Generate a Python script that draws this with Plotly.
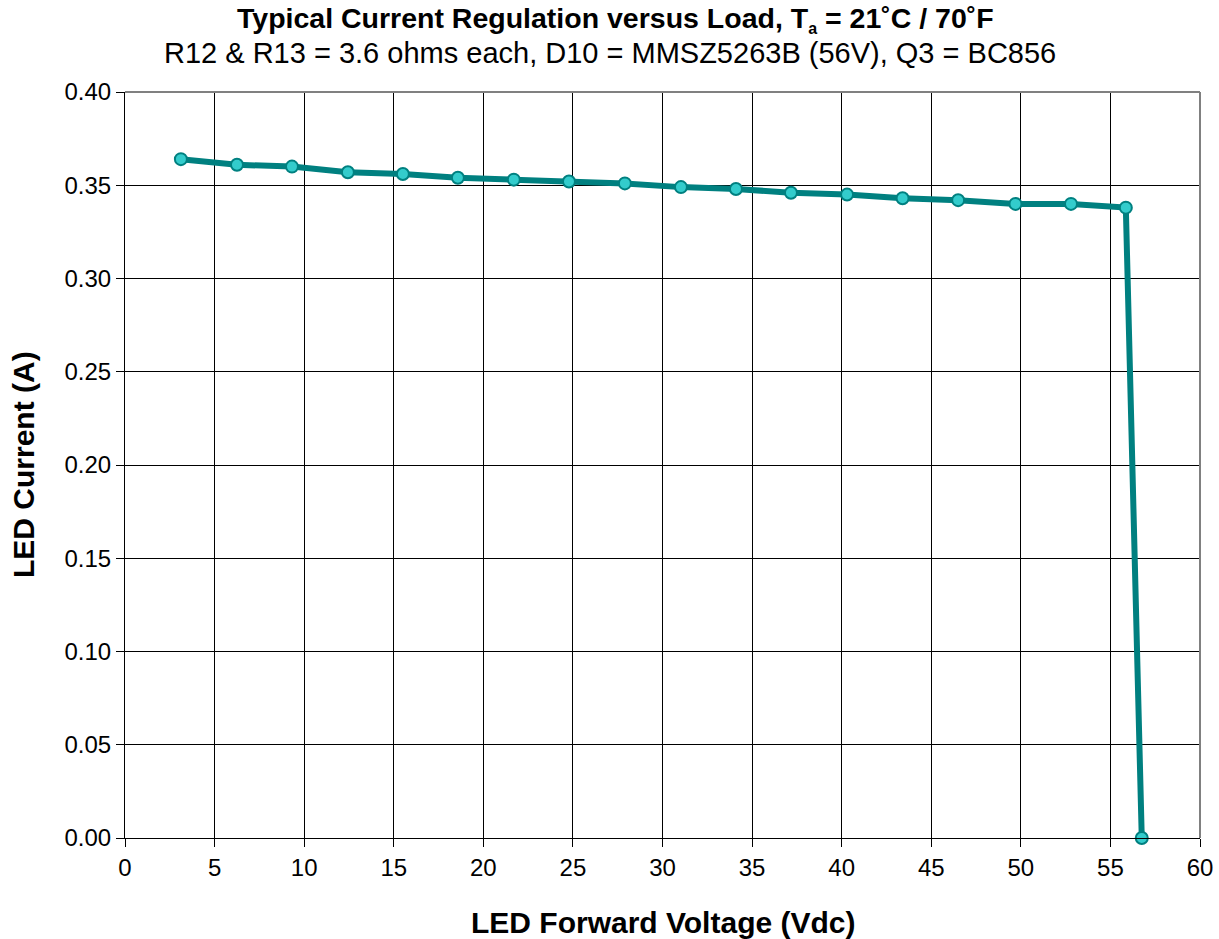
import plotly.graph_objects as go

voltage = [3.12, 6.25, 9.32, 12.44, 15.51, 18.58, 21.70, 24.78, 27.90, 31.03,
           34.10, 37.17, 40.30, 43.40, 46.50, 49.70, 52.80, 55.86, 56.75]
current = [0.364, 0.361, 0.360, 0.357, 0.356, 0.354, 0.353, 0.352, 0.351, 0.349,
           0.348, 0.346, 0.345, 0.343, 0.342, 0.340, 0.340, 0.338, 0.000]

x_ticks = list(range(0, 61, 5))
y_ticks = [i * 0.05 for i in range(9)]

title_main = ("<b>Typical Current Regulation versus Load, T<sub><span style='font-size:16px'>a</span></sub>"
              " = 21˚C / 70˚F</b>")
title_sub = "R12 &amp; R13 = 3.6 ohms each, D10 = MMSZ5263B (56V), Q3 = BC856"
x_title = "<b>LED Forward Voltage (Vdc)</b>"
y_title = "<b>LED Current (A)</b>"

FONT = "Liberation Sans, Arial, sans-serif"

W, H = 1219, 939
L, R, T, B = 125, 19, 92, 101
PW, PH = W - L - R, H - T - B


def px_to_paper_x(px):
    return (px - L) / PW


def px_to_paper_y(py):
    return (H - B - py) / PH


fig = go.Figure()
fig.add_trace(go.Scatter(
    x=voltage, y=current, mode="lines+markers",
    line=dict(color="#008080", width=6),
    marker=dict(size=12, color="#33CCCC", line=dict(color="#008080", width=2)),
    cliponaxis=False, showlegend=False,
))

fig.update_layout(
    template="none",
    width=W, height=H,
    margin=dict(l=L, r=R, t=T, b=B, autoexpand=False),
    paper_bgcolor="white", plot_bgcolor="white",
    font=dict(family=FONT, color="black", size=24),
    xaxis=dict(
        range=[0, 60], tickvals=x_ticks, ticktext=[str(v) for v in x_ticks],
        showgrid=True, gridcolor="black", gridwidth=1,
        showline=True, linecolor="black", linewidth=1,
        ticks="outside", ticklen=8, tickcolor="black", tickwidth=1,
        zeroline=False, tickfont=dict(size=24), automargin=False,
    ),
    yaxis=dict(
        range=[0, 0.40], tickvals=y_ticks, ticktext=[f"{v:.2f}" for v in y_ticks],
        showgrid=True, gridcolor="black", gridwidth=1,
        showline=True, linecolor="black", linewidth=1,
        ticks="outside", ticklen=8, tickcolor="black", tickwidth=1,
        zeroline=False, tickfont=dict(size=24), automargin=False,
    ),
    shapes=[
        dict(type="line", xref="paper", yref="paper", x0=0, x1=1, y0=1, y1=1,
             line=dict(color="#808080", width=2)),
        dict(type="line", xref="paper", yref="paper", x0=1, x1=1, y0=0, y1=1,
             line=dict(color="#808080", width=2)),
    ],
    annotations=[
        dict(text=title_main, xref="paper", yref="paper",
             x=px_to_paper_x(615), y=px_to_paper_y(19), xanchor="center", yanchor="middle",
             showarrow=False, font=dict(size=28.5), borderpad=0),
        dict(text=title_sub, xref="paper", yref="paper",
             x=px_to_paper_x(610), y=px_to_paper_y(53), xanchor="center", yanchor="middle",
             showarrow=False, font=dict(size=29), borderpad=0),
        dict(text=x_title, xref="paper", yref="paper",
             x=0.5, y=px_to_paper_y(922), xanchor="center", yanchor="middle",
             showarrow=False, font=dict(size=30)),
        dict(text=y_title, xref="paper", yref="paper",
             x=px_to_paper_x(23), y=0.5, xanchor="center", yanchor="middle",
             textangle=-90, showarrow=False, font=dict(size=30)),
    ],
)

fig.write_html("out.html", config={"displayModeBar": False},
               post_script="document.body.style.margin='0';document.body.style.overflow='hidden';")
